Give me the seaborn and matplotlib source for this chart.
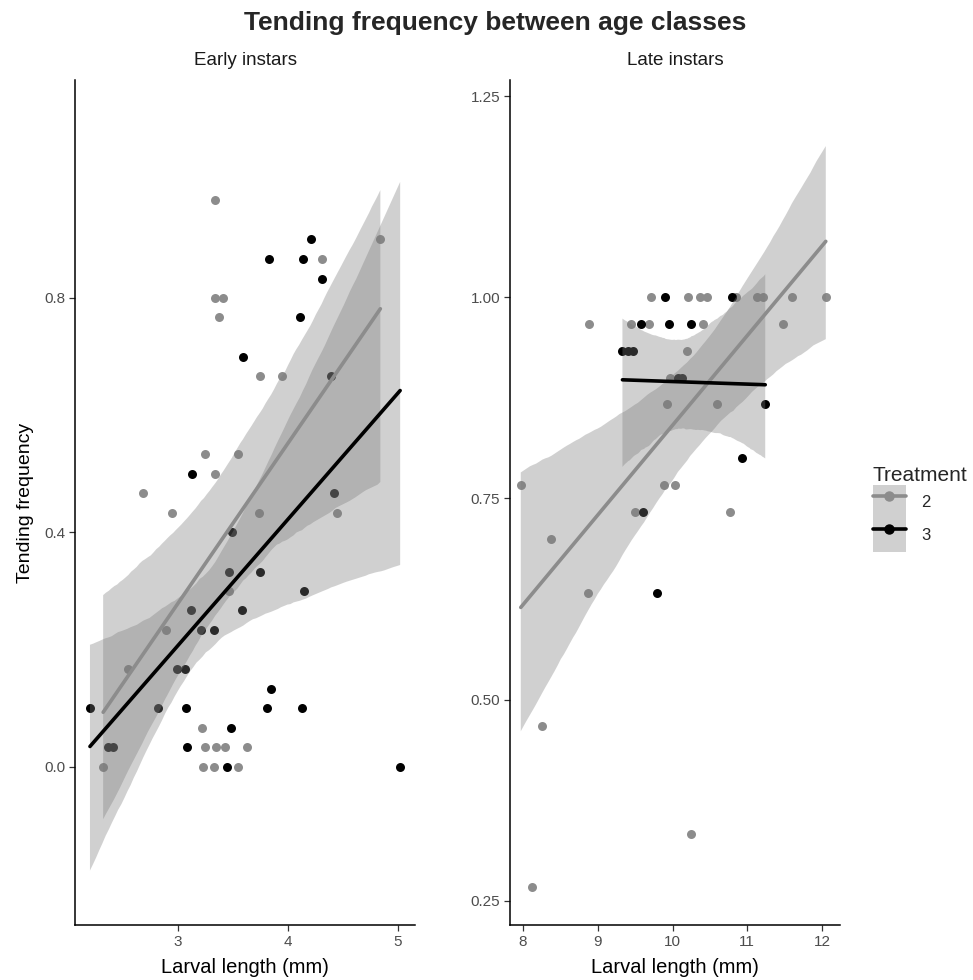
import seaborn as sns
import matplotlib
matplotlib.use("Agg")
import matplotlib.pyplot as plt
from matplotlib.patches import Patch
from matplotlib.lines import Line2D
from matplotlib.collections import PolyCollection
import pandas as pd

# tending frequency vs larval length
early_x_2 = [3.34, 3.34, 3.41, 3.37, 3.75, 3.25, 3.55, 3.34, 4.84, 4.31, 3.95, 2.68, 2.95, 3.74,
             3.46, 2.89, 2.55, 3.22, 3.25, 3.35, 3.43, 3.63, 2.32, 3.23, 3.33, 3.55, 4.45]
early_y_2 = [0.967, 0.8, 0.8, 0.767, 0.667, 0.533, 0.533, 0.5, 0.9, 0.867, 0.667, 0.467, 0.433, 0.433,
             0.3, 0.233, 0.167, 0.067, 0.033, 0.033, 0.033, 0.033, 0.0, 0.0, 0.0, 0.0, 0.433]
early_x_3 = [3.83, 4.14, 4.21, 4.31, 4.11, 3.59, 4.39, 3.13, 3.49, 3.46, 3.75, 3.12, 3.58, 4.15,
             3.21, 3.33, 2.99, 3.06, 2.20, 2.82, 3.07, 3.81, 4.13, 3.85, 3.48, 2.36, 2.41, 3.08,
             3.45, 5.02, 4.42]
early_y_3 = [0.867, 0.867, 0.9, 0.833, 0.767, 0.7, 0.667, 0.5, 0.4, 0.333, 0.333, 0.267, 0.267, 0.3,
             0.233, 0.233, 0.167, 0.167, 0.1, 0.1, 0.1, 0.1, 0.1, 0.133, 0.067, 0.033, 0.033, 0.033,
             0.0, 0.0, 0.467]

late_x_2 = [9.71, 10.21, 10.37, 10.46, 10.85, 11.13, 11.21, 11.60, 12.05,
            8.88, 9.44, 9.69, 10.41, 11.48, 10.19, 9.97, 9.93, 10.60,
            7.97, 9.89, 10.03, 9.50, 10.77, 8.37, 8.87, 8.25, 10.25, 8.12]
late_y_2 = [1.0, 1.0, 1.0, 1.0, 1.0, 1.0, 1.0, 1.0, 1.0,
            0.967, 0.967, 0.967, 0.967, 0.967, 0.933, 0.9, 0.867, 0.867,
            0.767, 0.767, 0.767, 0.733, 0.733, 0.7, 0.633, 0.467, 0.333, 0.267]
late_x_3 = [9.90, 10.80, 9.58, 9.95, 10.25, 9.33, 9.40, 9.47, 10.07, 10.12, 11.24, 10.93, 9.61, 9.79]
late_y_3 = [1.0, 1.0, 0.967, 0.967, 0.967, 0.933, 0.933, 0.933, 0.9, 0.9, 0.867, 0.8, 0.733, 0.633]

treatments = ["2", "3"]
point_colors = {"2": "#8c8c8c", "3": "#000000"}

early = pd.concat([
    pd.DataFrame({"length": early_x_2, "freq": early_y_2, "treatment": "2"}),
    pd.DataFrame({"length": early_x_3, "freq": early_y_3, "treatment": "3"}),
])
late = pd.concat([
    pd.DataFrame({"length": late_x_2, "freq": late_y_2, "treatment": "2"}),
    pd.DataFrame({"length": late_x_3, "freq": late_y_3, "treatment": "3"}),
])

sns.set_theme(style="ticks")
plt.rcParams["font.family"] = ["Liberation Sans", "DejaVu Sans"]

fig = plt.figure(figsize=(9.73, 9.80), dpi=100)
ax1 = fig.add_axes([75 / 973, 1 - 925 / 980, 340 / 973, 845 / 980])
ax2 = fig.add_axes([510 / 973, 1 - 925 / 980, 330 / 973, 845 / 980])

band_fill = "#7a7a7a"

for ax, data in [(ax1, early), (ax2, late)]:
    for t in treatments:
        sub = data[data["treatment"] == t]
        sns.regplot(data=sub, x="length", y="freq", ax=ax, ci=95,
                    n_boot=2000, seed=1,
                    scatter_kws={"color": point_colors[t], "s": 42, "alpha": 1,
                                 "linewidths": 0, "zorder": 1},
                    line_kws={"color": point_colors[t], "lw": 2.6, "zorder": 3})
    # grey confidence ribbons laid over the points, like geom_smooth
    for coll in ax.collections:
        if isinstance(coll, PolyCollection):
            coll.set_facecolor(band_fill)
            coll.set_alpha(0.35)
            coll.set_zorder(2)
            coll.set_edgecolor("none")

ax1.set_xlim(2.064, 5.155)
ax1.set_ylim(-0.27, 1.172)
ax1.set_xticks([3, 4, 5])
ax1.set_yticks([0.0, 0.4, 0.8])
ax1.set_yticklabels(["0.0", "0.4", "0.8"])

ax2.set_xlim(7.826, 12.24)
ax2.set_ylim(0.22, 1.27)
ax2.set_xticks([8, 9, 10, 11, 12])
ax2.set_yticks([0.25, 0.5, 0.75, 1.0, 1.25])
ax2.set_yticklabels(["0.25", "0.50", "0.75", "1.00", "1.25"])

for ax, title in [(ax1, "Early instars"), (ax2, "Late instars")]:
    sns.despine(ax=ax)
    ax.spines["left"].set_color("black")
    ax.spines["bottom"].set_color("black")
    ax.spines["left"].set_linewidth(1.1)
    ax.spines["bottom"].set_linewidth(1.1)
    ax.tick_params(length=4, width=0.9, color="#333333", labelcolor="#4d4d4d",
                   labelsize=11, pad=3)
    ax.set_xlabel("Larval length (mm)", fontsize=14.5, color="black", labelpad=7)
    ax.set_ylabel("")
    ax.set_title(title, fontsize=13.5, color="#1a1a1a", pad=11)

ax1.set_ylabel("Tending frequency", fontsize=14, color="black", labelpad=7)

fig.suptitle("Tending frequency between age classes", x=0.509, y=0.989,
             fontsize=19, fontweight="bold")

handles = [(Patch(facecolor="#d0d0d0", edgecolor="none"),
            Line2D([], [], color=point_colors[t], lw=2.6, marker="o", markersize=6.5))
           for t in treatments]
leg = fig.legend(handles, treatments, title="Treatment", loc="center left",
                 bbox_to_anchor=(866 / 973, 1 - 509 / 980), frameon=False,
                 fontsize=12, title_fontsize=15, numpoints=1, handlelength=2.0,
                 handleheight=2.71, labelspacing=0.0, handletextpad=0.9,
                 alignment="left", borderaxespad=0)

fig.savefig("out.png", dpi=100)
